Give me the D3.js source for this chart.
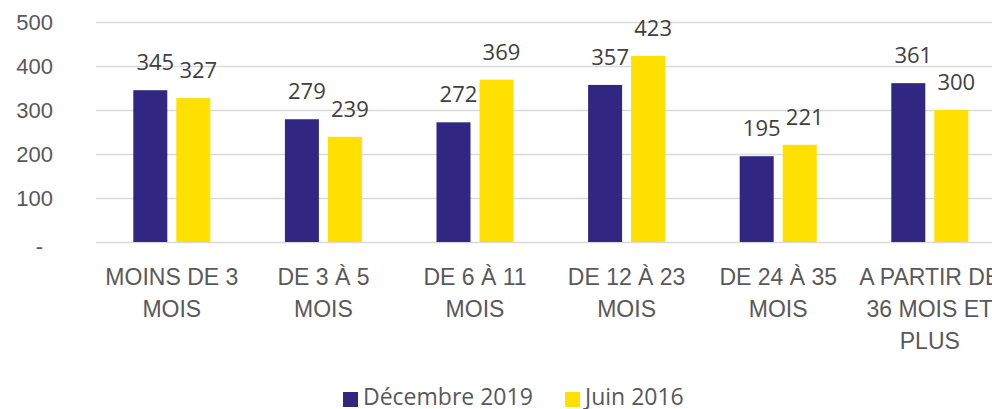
<!DOCTYPE html>
<html>
<head>
<meta charset="utf-8">
<script src="https://cdn.jsdelivr.net/npm/d3@7"></script>
<style>
  body { margin: 0; background: #fff; }
  svg { display: block; font-family: "Open Sans", sans-serif; }
</style>
</head>
<body>
<svg></svg>
<script>
// data
const categories = ["MOINS DE 3 MOIS", "DE 3 À 5 MOIS", "DE 6 À 11 MOIS", "DE 12 À 23 MOIS", "DE 24 À 35 MOIS", "A PARTIR DE 36 MOIS ET PLUS"]
const series = ["Décembre 2019", "Juin 2016"]
const dec2019 = [345, 279, 272, 357, 195, 361]
const juin2016 = [327, 239, 369, 423, 221, 300]
const yTicks = [0, 100, 200, 300, 400, 500]
const colors = ["#312783", "#FFE000"]

const W = 992, H = 409
const svg = d3.select('svg').attr('width', W).attr('height', H)

const rows = categories.map((c, i) => ({cat: c, vals: [dec2019[i], juin2016[i]]}))

// scales (the last group runs past the right edge, like the original)
const x0 = d3.scaleBand()
    .domain(categories)
    .range([96, 1005.6])
    .paddingInner(0.492)
    .paddingOuter(0.246)
const x1 = d3.scaleBand()
    .domain(series)
    .range([0, x0.bandwidth()])
    .paddingInner(9 / 43)
const y = d3.scaleLinear()
    .domain([0, 500])
    .range([242, 22])

// y axis + gridlines
const yAxis = svg.append('g')
    .attr('transform', 'translate(96,0)')
    .call(d3.axisLeft(y).tickValues(yTicks).tickSize(-(W + 20 - 96)).tickPadding(43)
        .tickFormat(d => d === 0 ? '-' : d))
yAxis.select('.domain').remove()
yAxis.selectAll('.tick line').attr('stroke', '#D9D9D9').attr('stroke-width', 1.5)
yAxis.selectAll('.tick text')
    .attr('fill', '#595959')
    .style('font-size', '22px')
    .attr('dy', '0.36em')
    .filter(d => d === 0).attr('x', -53).attr('dy', '0.5em')

// bars
const groups = svg.append('g').selectAll('g')
    .data(rows).join('g')
    .attr('transform', d => `translate(${x0(d.cat)},0)`)

groups.selectAll('rect')
    .data(d => d.vals.map((v, j) => ({s: series[j], v: v, j: j})))
    .join('rect')
    .attr('x', d => x1(d.s))
    .attr('y', d => y(d.v))
    .attr('width', x1.bandwidth())
    .attr('height', d => y(0) - y(d.v))
    .attr('fill', d => colors[d.j])

groups.selectAll('text')
    .data(d => d.vals.map((v, j) => ({s: series[j], v: v})))
    .join('text')
    .attr('x', d => x1(d.s) + x1.bandwidth() / 2 + 5)
    .attr('y', d => y(d.v) - 20)
    .attr('text-anchor', 'middle')
    .attr('fill', '#404040')
    .style('font-size', '22px')
    .text(d => d.v)

// category labels, wrapped
const xAxis = svg.append('g')
    .attr('transform', `translate(0,${y(0)})`)
    .call(d3.axisBottom(x0).tickSize(0))
xAxis.select('.domain').remove()
xAxis.selectAll('.tick text')
    .attr('fill', '#595959')
    .style('font-size', '23px')
    .attr('y', 43).attr('dy', 0)
    .each(function(d) { wrap(d3.select(this), 145) })

function wrap(text, width) {
  const words = text.text().split(' ')
  text.text(null)
  let line = []
  let tspan = text.append('tspan').attr('x', 0).attr('y', 43)
  let n = 0
  for (const w of words) {
    line.push(w)
    tspan.text(line.join(' '))
    if (tspan.node().getComputedTextLength() > width && line.length > 1) {
      line.pop()
      tspan.text(line.join(' '))
      line = [w]
      n++
      tspan = text.append('tspan').attr('x', 0).attr('y', 43 + n * 32).text(w)
    }
  }
}

// legend
const legend = svg.append('g')
const legX = [343, 565]
series.forEach((s, i) => {
  legend.append('rect')
      .attr('x', legX[i]).attr('y', 392)
      .attr('width', 15).attr('height', 15)
      .attr('fill', colors[i])
  legend.append('text')
      .attr('x', legX[i] + 20).attr('y', 405)
      .attr('fill', '#595959')
      .style('font-size', '23px')
      .text(s)
})
</script>
</body>
</html>
